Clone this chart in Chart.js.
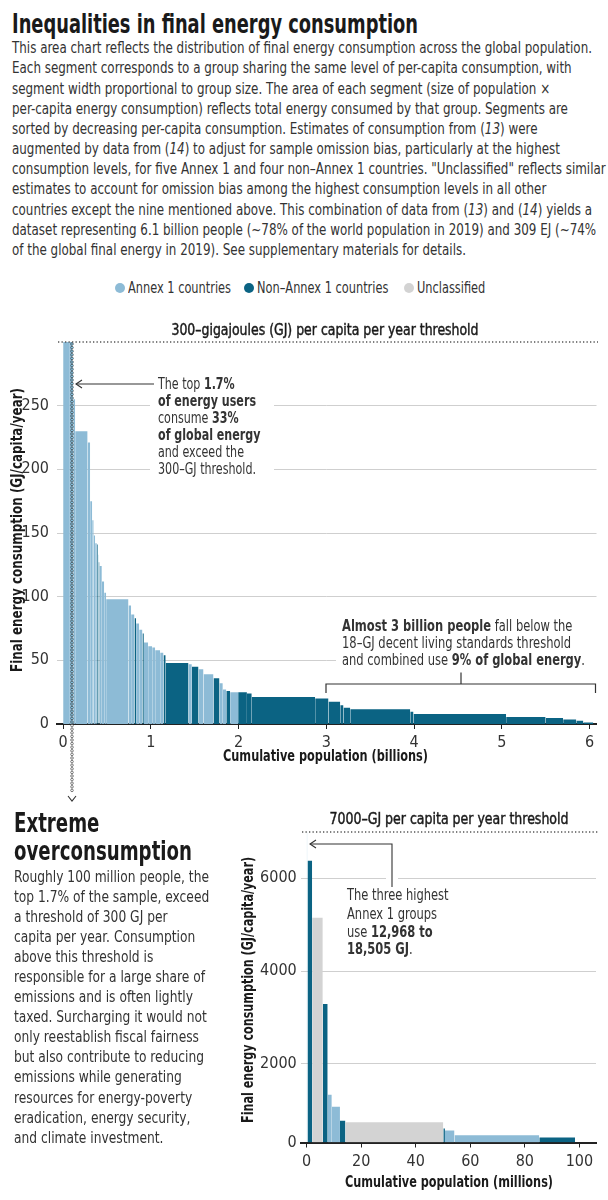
<!DOCTYPE html>
<html><head><meta charset="utf-8">
<script src="https://cdn.jsdelivr.net/npm/chart.js@4.4.1/dist/chart.umd.min.js"></script>
<style>
html,body{margin:0;padding:0;background:#fff;}
#page{position:relative;width:608px;height:1200px;overflow:hidden;font-family:'Liberation Sans Narrow','DejaVu Sans Condensed','Arial Narrow',sans-serif;color:#333;}
.ln{position:absolute;white-space:nowrap;transform-origin:0 50%;}
.title{font-weight:bold;font-size:26px;line-height:28px;color:#1a1a1a;}
.body{font-size:15.5px;line-height:20px;}
.leg{font-size:16px;line-height:20px;}
.dot{position:absolute;width:10px;height:10px;border-radius:50%;}
canvas{position:absolute;}
</style></head>
<body><div id="page">
<div class="ln title t1" style="left:12px;top:10px">Inequalities in final energy consumption</div>
<div class="ln body b1" style="left:12px;top:38px">This area chart reflects the distribution of final energy consumption across the global population.</div>
<div class="ln body b1" style="left:12px;top:58px">Each segment corresponds to a group sharing the same level of per-capita consumption, with</div>
<div class="ln body b1" style="left:12px;top:79px">segment width proportional to group size. The area of each segment (size of population ×</div>
<div class="ln body b1" style="left:12px;top:99px">per-capita energy consumption) reflects total energy consumed by that group. Segments are</div>
<div class="ln body b1" style="left:12px;top:119px">sorted by decreasing per-capita consumption. Estimates of consumption from (<i>13</i>) were</div>
<div class="ln body b1" style="left:12px;top:139px">augmented by data from (<i>14</i>) to adjust for sample omission bias, particularly at the highest</div>
<div class="ln body b1" style="left:12px;top:159px">consumption levels, for five Annex 1 and four non–Annex 1 countries. "Unclassified" reflects similar</div>
<div class="ln body b1" style="left:12px;top:179px">estimates to account for omission bias among the highest consumption levels in all other</div>
<div class="ln body b1" style="left:12px;top:200px">countries except the nine mentioned above. This combination of data from (<i>13</i>) and (<i>14</i>) yields a</div>
<div class="ln body b1" style="left:12px;top:220px">dataset representing 6.1 billion people (~78% of the world population in 2019) and 309 EJ (~74%</div>
<div class="ln body b1" style="left:12px;top:240px">of the global final energy in 2019). See supplementary materials for details.</div>

<div id="legend"></div>

<canvas id="main" width="608" height="510" style="left:0;top:300px;width:608px;height:510px"></canvas>

<div class="ln title t2" style="left:14px;top:809px">Extreme</div>
<div class="ln title t2" style="left:14px;top:837px">overconsumption</div>
<div class="ln body b2" style="left:14px;top:867px">Roughly 100 million people, the</div>
<div class="ln body b2" style="left:14px;top:887px">top 1.7% of the sample, exceed</div>
<div class="ln body b2" style="left:14px;top:907px">a threshold of 300 GJ per</div>
<div class="ln body b2" style="left:14px;top:927px">capita per year. Consumption</div>
<div class="ln body b2" style="left:14px;top:947px">above this threshold is</div>
<div class="ln body b2" style="left:14px;top:967px">responsible for a large share of</div>
<div class="ln body b2" style="left:14px;top:987px">emissions and is often lightly</div>
<div class="ln body b2" style="left:14px;top:1007px">taxed. Surcharging it would not</div>
<div class="ln body b2" style="left:14px;top:1027px">only reestablish fiscal fairness</div>
<div class="ln body b2" style="left:14px;top:1047px">but also contribute to reducing</div>
<div class="ln body b2" style="left:14px;top:1067px">emissions while generating</div>
<div class="ln body b2" style="left:14px;top:1088px">resources for energy-poverty</div>
<div class="ln body b2" style="left:14px;top:1108px">eradication, energy security,</div>
<div class="ln body b2" style="left:14px;top:1128px">and climate investment.</div>

<canvas id="inset" width="378" height="400" style="left:230px;top:800px;width:378px;height:400px"></canvas>
</div>
<script>
// ---------------- DATA ----------------
// Main chart: cumulative population boundaries (billions), per-capita GJ, group
const mainCumPop = [0, 0.068, 0.103, 0.115, 0.137, 0.279, 0.308, 0.331, 0.348, 0.365,
  0.384, 0.395, 0.403, 0.414, 0.441, 0.468, 0.490, 0.745, 0.775, 0.813,
  0.832, 0.867, 0.904, 0.920, 0.969, 1.015, 1.049, 1.106, 1.144, 1.169,
  1.429, 1.467, 1.543, 1.600, 1.714, 1.782, 1.820, 1.860, 1.904, 1.995,
  2.095, 2.150, 2.873, 3.025, 3.159, 3.196, 3.273, 3.957, 3.994, 5.050,
  5.500, 5.700, 5.850, 5.930, 6.043];
const mainGJ = [400, 320, 285, 255, 230, 221, 175, 160, 148, 142,
  141, 133, 127, 124, 112, 103, 98, 93, 86, 83,
  79, 74, 71, 64, 61, 60, 58, 56, 54, 48,
  47, 45, 43, 39, 36, 32, 27, 26, 25, 25,
  24, 21.3, 20, 17.4, 14.8, 12.8, 11.5, 9.6, 7.8, 5.5,
  4.8, 3.5, 2.6, 1.2];
const mainGroup = ['A','A','A','A','A','A','A','A','A','A',
  'N','A','N','A','A','A','A','A','A','N',
  'A','A','N','A','A','A','A','A','N','N',
  'A','N','A','A','N','A','A','N','A','N',
  'N','N','N','N','N','N','N','N','N','N',
  'N','N','N','N'];
const mainTicksX = [0, 1, 2, 3, 4, 5, 6];
const mainTicksY = [0, 50, 100, 150, 200, 250];

// Inset: top ~100 million (millions), per-capita GJ, group
const insetCumPop = [0, 0.1, 0.2, 0.3, 2.0, 5.9, 7.7, 9.2, 12.2, 14.2, 50.1, 50.7, 54.2, 85.3, 98.4];
const insetGJ = [18505, 14500, 12968, 6380, 5150, 3290, 1330, 1070, 770, 735, 600, 560, 455, 410];
const insetGroup = ['A','A','A','N','U','N','A','A','N','U','N','A','A','N'];
const insetTicksX = [0, 20, 40, 60, 80, 100];
const insetTicksY = [300, 2000, 4000, 6000];
const insetTickLabelsY = ['0', '2000', '4000', '6000'];

const groupKeys = ['A', 'N', 'U'];
const groupNames = ['Annex 1 countries', 'Non–Annex 1 countries', 'Unclassified'];
const groupColors = ['#8dbbd6', '#0b6383', '#d3d3d3'];

// ---------------- HELPERS ----------------
const F = "'Liberation Sans Narrow','DejaVu Sans Condensed','Arial Narrow',sans-serif";
Chart.defaults.font.family = F;
Chart.defaults.color = '#333';
function colorOf(g){ return groupColors[groupKeys.indexOf(g)]; }
function segDatasets(cum, vals, groups){
  return vals.map((v, i) => ({
    data: [{x: cum[i], y: v}, {x: cum[i + 1], y: v}],
    fill: 'origin', backgroundColor: colorOf(groups[i]),
    borderColor: 'rgba(0,0,0,0)', borderWidth: 0, pointRadius: 0, tension: 0
  }));
}
function runsWidth(ctx, runs, size){
  let w = 0;
  runs.forEach(r => { ctx.font = (r[1] ? 'bold ' : '') + size + 'px ' + F; w += ctx.measureText(r[0]).width; });
  return w;
}
function richLine(ctx, x, y, runs, size, sx, color, align, rot, stroke){
  ctx.save();
  const w = runsWidth(ctx, runs, size) * sx;
  ctx.translate(x, y);
  if (rot) ctx.rotate(rot);
  const x0 = align === 'center' ? -w / 2 : 0;
  ctx.translate(x0, 0); ctx.scale(sx, 1);
  ctx.textBaseline = 'middle'; ctx.textAlign = 'left'; ctx.fillStyle = color || '#333';
  ctx.strokeStyle = color || '#333'; ctx.lineWidth = stroke || 0;
  let cx = 0;
  runs.forEach(r => {
    ctx.font = (r[1] ? 'bold ' : '') + size + 'px ' + F;
    ctx.fillText(r[0], cx, 0);
    if (stroke) ctx.strokeText(r[0], cx, 0);
    cx += ctx.measureText(r[0]).width;
  });
  ctx.restore();
}
function fitText(ctx, x, y, text, bold, size, target, color, rot, stroke){
  const runs = [[text, bold]];
  richLine(ctx, x, y, runs, size, target / runsWidth(ctx, runs, size), color, 'center', rot, stroke);
}
function dotted(ctx, x1, y1, x2, y2){
  ctx.save(); ctx.strokeStyle = '#555'; ctx.lineWidth = 1.3; ctx.setLineDash([1.3, 2.2]);
  ctx.beginPath(); ctx.moveTo(x1, y1); ctx.lineTo(x2, y2); ctx.stroke(); ctx.restore();
}
function seg(ctx, pts, color, w){
  ctx.save(); ctx.strokeStyle = color || '#333'; ctx.lineWidth = w || 1.2;
  ctx.beginPath(); ctx.moveTo(pts[0][0], pts[0][1]);
  for (let i = 1; i < pts.length; i++) ctx.lineTo(pts[i][0], pts[i][1]);
  ctx.stroke(); ctx.restore();
}

// ---------------- LEGEND ----------------
(function(){
  const leg = document.getElementById('legend');
  const dotX = [115, 244, 404];
  groupNames.forEach((n, i) => {
    const d = document.createElement('div'); d.className = 'dot';
    d.style.left = dotX[i] + 'px'; d.style.top = '283px'; d.style.background = groupColors[i];
    leg.appendChild(d);
    const t = document.createElement('div'); t.className = 'ln leg lg';
    t.style.left = (dotX[i] + 13) + 'px'; t.style.top = '278px'; t.textContent = n;
    leg.appendChild(t);
  });
})();

function fitBlock(cls, idx, target){
  const els = [...document.querySelectorAll('.' + cls)];
  const w = els[idx].getBoundingClientRect().width;
  const s = target / w;
  els.forEach(e => e.style.transform = 'scaleX(' + s + ')');
}
fitBlock('t1', 0, 406);
fitBlock('b1', 0, 580);
fitBlock('lg', 0, 103);
fitBlock('t2', 1, 178);
fitBlock('b2', 0, 195);

// ---------------- MAIN CHART ----------------
const mainAnnot = {
  id: 'mainAnnot',
  afterDraw(chart){
    const ctx = chart.ctx;
    // axis titles
    fitText(ctx, 325.5, 457, 'Cumulative population (billions)', 1, 16, 205, '#1a1a1a');
    fitText(ctx, 18, 230, 'Final energy consumption (GJ/capita/year)', 1, 15.5, 284, '#1a1a1a', -Math.PI / 2);
    // threshold title + dotted line
    fitText(ctx, 325, 31, '300–gigajoules (GJ) per capita per year threshold', 0, 16, 307, '#1a1a1a', 0, 0.45);
    dotted(ctx, 58, 42, 598, 42);
    // annotation 1
    ctx.fillStyle = '#fff'; ctx.fillRect(150, 72, 124, 108);
    const a1 = [
      [['The top ', 0], ['1.7%', 1]],
      [['of energy users', 1]],
      [['consume ', 0], ['33%', 1]],
      [['of global energy', 1]],
      [['and exceed the', 0]],
      [['300–GJ threshold.', 0]]
    ];
    const s1 = 98 / runsWidth(ctx, a1[1], 16);
    a1.forEach((r, i) => richLine(ctx, 158, 84.5 + 17 * i, r, 16, s1, '#333'));
    seg(ctx, [[154, 84], [76, 84]], '#333', 1.1);
    seg(ctx, [[82, 80], [76, 84], [82, 88]], '#333', 1.1);
    // vertical chain line at the 300 GJ threshold
    ctx.save();
    for (let y = 44; y <= 494; y += 3.6) {
      ctx.beginPath(); ctx.arc(72, y, 1.3, 0, Math.PI * 2);
      ctx.fillStyle = y < 424 ? '#8fd0f0' : '#fff'; ctx.fill();
      ctx.strokeStyle = '#2a2a2a'; ctx.lineWidth = 0.6; ctx.stroke();
    }
    ctx.restore();
    seg(ctx, [[68, 496], [72, 501], [76, 496]], '#333', 1.1);
    // annotation 2
    ctx.fillStyle = '#fff'; ctx.fillRect(336, 316, 266, 56);
    const a2 = [
      [['Almost 3 billion people', 1], [' fall below the', 0]],
      [['18–GJ decent living standards threshold', 0]],
      [['and combined use ', 0], ['9% of global energy', 1], ['.', 0]]
    ];
    const s2 = 243 / runsWidth(ctx, a2[2], 16);
    a2.forEach((r, i) => richLine(ctx, 342, 327 + 17 * i, r, 16, s2, '#333'));
    seg(ctx, [[326, 393], [326, 384], [595.5, 384], [595.5, 393]], '#333', 1.2);
    seg(ctx, [[461, 372.5], [461, 384]], '#333', 1.2);
  }
};

new Chart(document.getElementById('main'), {
  type: 'line',
  data: { datasets: segDatasets(mainCumPop, mainGJ, mainGroup) },
  options: {
    responsive: false, animation: false, events: [],
    layout: { padding: { top: 42, left: 0, right: 11.5, bottom: 0 } },
    plugins: { legend: { display: false }, tooltip: { enabled: false } },
    scales: {
      x: {
        type: 'linear', min: -0.07, max: 6.08, z: 1,
        afterFit(s){ s.height = 86; },
        afterBuildTicks(s){ s.ticks = mainTicksX.map(v => ({ value: v })); },
        ticks: { padding: 4, font: { size: 16 }, color: '#333', autoSkip: false, maxRotation: 0 },
        grid: { drawOnChartArea: false, drawTicks: true, tickLength: 5, color: '#222', lineWidth: 1 },
        border: { display: true, color: '#222', width: 2 },
        title: { display: false, text: 'Cumulative population (billions)' }
      },
      y: {
        type: 'linear', min: 0, max: 300,
        afterFit(s){ s.width = 57; },
        afterBuildTicks(s){ s.ticks = mainTicksY.map(v => ({ value: v })); },
        ticks: { padding: 8, font: { size: 16 }, color: '#333' },
        grid: { drawTicks: false, color: '#cfcfcf', lineWidth: 1 },
        border: { display: false },
        title: { display: false, text: 'Final energy consumption (GJ/capita/year)' }
      }
    }
  },
  plugins: [mainAnnot]
});

// ---------------- INSET CHART ----------------
const insetAnnot = {
  id: 'insetAnnot',
  afterDraw(chart){
    const ctx = chart.ctx;
    fitText(ctx, 219, 382.7, 'Cumulative population (millions)', 1, 16, 208, '#1a1a1a');
    fitText(ctx, 19, 190, 'Final energy consumption (GJ/capita/year)', 1, 15, 266, '#1a1a1a', -Math.PI / 2);
    fitText(ctx, 219, 20, '7000–GJ per capita per year threshold', 0, 16, 239, '#1a1a1a', 0, 0.45);
    dotted(ctx, 72, 32, 368, 32);
    ctx.fillStyle = '#fff'; ctx.fillRect(156, 73, 12, 10);
    seg(ctx, [[162, 87], [162, 44], [80, 44]], '#333', 1.1);
    seg(ctx, [[86, 40], [80, 44], [86, 48]], '#333', 1.1);
    const a = [
      [['The three highest', 0]],
      [['Annex 1 groups', 0]],
      [['use ', 0], ['12,968 to', 1]],
      [['18,505 GJ', 1], ['.', 0]]
    ];
    const s = 101.6 / runsWidth(ctx, a[0], 16);
    const ys = [96, 114.5, 132.5, 149.5];
    a.forEach((r, i) => richLine(ctx, 117, ys[i], r, 16, s, '#333'));
  }
};

new Chart(document.getElementById('inset'), {
  type: 'line',
  data: { datasets: segDatasets(insetCumPop, insetGJ, insetGroup) },
  options: {
    responsive: false, animation: false, events: [],
    layout: { padding: { top: 32, left: 0, right: 12, bottom: 0 } },
    plugins: { legend: { display: false }, tooltip: { enabled: false } },
    scales: {
      x: {
        type: 'linear', min: -2.09, max: 106.1, z: 1,
        afterFit(s){ s.height = 57.5; },
        afterBuildTicks(s){ s.ticks = insetTicksX.map(v => ({ value: v })); },
        ticks: { padding: 4.6, font: { size: 16 }, color: '#333', autoSkip: false, maxRotation: 0 },
        grid: { drawOnChartArea: false, drawTicks: true, tickLength: 5, color: '#222', lineWidth: 1 },
        border: { display: true, color: '#222', width: 2 },
        title: { display: false, text: 'Cumulative population (millions)' }
      },
      y: {
        type: 'linear', min: 300, max: 7000,
        afterFit(s){ s.width = 71; },
        afterBuildTicks(s){ s.ticks = insetTicksY.map(v => ({ value: v })); },
        ticks: { padding: 4.3, font: { size: 16 }, color: '#333',
          callback: (v) => insetTickLabelsY[insetTicksY.indexOf(v)] },
        grid: { drawTicks: false, color: '#cfcfcf', lineWidth: 1 },
        border: { display: false },
        title: { display: false, text: 'Final energy consumption (GJ/capita/year)' }
      }
    }
  },
  plugins: [insetAnnot]
});
</script>
</body></html>
